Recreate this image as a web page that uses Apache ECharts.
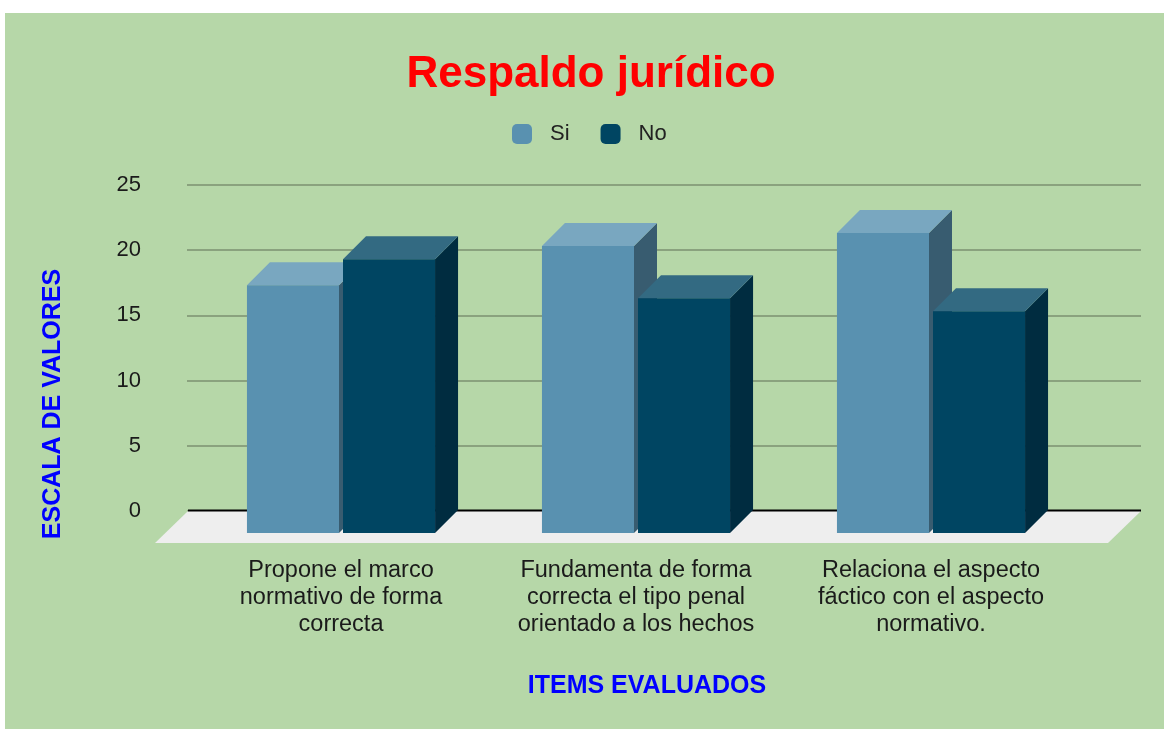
<!DOCTYPE html>
<html>
<head>
<meta charset="utf-8">
<script src="https://cdn.jsdelivr.net/npm/echarts@6/dist/echarts.min.js"></script>
<style>
  html, body { margin: 0; padding: 0; background: #fff; }
  #chart { width: 1164px; height: 729px; }
</style>
</head>
<body>
<div id="chart"></div>
<script>
var categories = [
    'Propone el marco\nnormativo de forma\ncorrecta',
    'Fundamenta de forma\ncorrecta el tipo penal\norientado a los hechos',
    'Relaciona el aspecto\nfáctico con el aspecto\nnormativo.'
];
var siValues = [19, 22, 23];
var noValues = [21, 18, 17];
var seriesNames = ['Si', 'No'];
var yMin = 0, yMax = 25, yStep = 5;

var FONT = 'Liberation Sans, Arial, sans-serif';
var DEPTH = 23;

// front / top / side shades for each series
var siColors = { front: '#5991b0', top: '#79a7c0', side: '#385c70' };
var noColors = { front: '#004562', top: '#336a82', side: '#002c40' };

function barRenderer(dir, c) {
    return function (params, api) {
        var cat = api.value(0), val = api.value(1);
        var base = api.coord([cat, 0]),
            top = api.coord([cat, val]),
            band = api.size([1, 0])[0],
            w = band * 0.312,
            x0 = dir < 0 ? base[0] - 2 - w : base[0] + 2,
            x1 = x0 + w,
            yB = base[1],
            yT = top[1],
            d = DEPTH;
        return {
            type: 'group',
            children: [{
                type: 'polygon',
                shape: { points: [[x1, yT], [x1 + d, yT - d], [x1 + d, yB - d], [x1, yB]] },
                style: { fill: c.side }
            }, {
                type: 'polygon',
                shape: { points: [[x0, yT], [x0 + d, yT - d], [x1 + d, yT - d], [x1, yT]] },
                style: { fill: c.top }
            }, {
                type: 'rect',
                shape: { x: x0, y: yT, width: w, height: yB - yT },
                style: { fill: c.front }
            }]
        };
    };
}

function floorRenderer(params, api) {
    var cs = params.coordSys,
        y0 = api.coord([0, 0])[1],
        left = cs.x + 1,
        right = cs.x + cs.width;
    return {
        type: 'group',
        children: [{
            type: 'polygon',
            shape: { points: [[left, y0], [right, y0], [right - 33, y0 + 32], [left - 33, y0 + 32]] },
            style: { fill: '#eeeeee' }
        }, {
            type: 'line',
            shape: { x1: left, y1: y0 - 0.5, x2: right, y2: y0 - 0.5 },
            style: { stroke: '#000', lineWidth: 2 }
        }]
    };
}

var chart = echarts.init(document.getElementById('chart'));
chart.setOption({
    backgroundColor: '#ffffff',
    animation: false,
    textStyle: { fontFamily: FONT },
    graphic: [{
        type: 'rect',
        z: -10,
        silent: true,
        shape: { x: 5, y: 13, width: 1159, height: 716 },
        style: { fill: '#b6d7a8' }
    }, {
        type: 'text',
        x: 591, y: 75,
        style: {
            text: 'Respaldo jurídico',
            fill: '#ff0000',
            font: 'bold 44px ' + FONT,
            textAlign: 'center',
            textVerticalAlign: 'middle'
        }
    }, {
        type: 'text',
        x: 53, y: 404,
        rotation: Math.PI / 2,
        style: {
            text: 'ESCALA DE VALORES',
            fill: '#0000ff',
            font: 'bold 25px ' + FONT,
            textAlign: 'center',
            textVerticalAlign: 'middle'
        }
    }, {
        type: 'text',
        x: 647, y: 686,
        style: {
            text: 'ITEMS EVALUADOS',
            fill: '#0000ff',
            font: 'bold 25px ' + FONT,
            textAlign: 'center',
            textVerticalAlign: 'middle'
        }
    }],
    legend: {
        data: seriesNames,
        left: 512,
        top: 123,
        padding: 0,
        itemWidth: 20,
        itemHeight: 20,
        itemGap: 31,
        icon: 'roundRect',
        textStyle: { fontSize: 22, color: '#222', fontFamily: FONT, padding: [0, 0, 0, 13] }
    },
    grid: [
        { left: 187, right: 23, top: 185, bottom: 218 },
        { left: 193.5, right: 85.5, top: 207, bottom: 196 }
    ],
    xAxis: [{
        gridIndex: 0,
        type: 'value',
        min: 0, max: 1,
        show: false
    }, {
        gridIndex: 1,
        type: 'category',
        data: categories,
        axisLine: { show: false },
        axisTick: { show: false },
        axisLabel: {
            interval: 0,
            margin: 24,
            fontSize: 23.5,
            lineHeight: 27,
            color: '#1a1a1a',
            fontFamily: FONT
        }
    }],
    yAxis: [{
        gridIndex: 0,
        type: 'value',
        min: yMin, max: yMax, interval: yStep,
        axisLine: { show: false },
        axisTick: { show: false },
        axisLabel: { margin: 46, fontSize: 22, color: '#1a1a1a', fontFamily: FONT, padding: [3, 0, 0, 0] },
        splitLine: { lineStyle: { color: '#8aa27e', width: 2 } }
    }, {
        gridIndex: 1,
        type: 'value',
        min: yMin, max: yMax, interval: yStep,
        show: false
    }],
    series: [{
        name: 'floor',
        type: 'custom',
        xAxisIndex: 0,
        yAxisIndex: 0,
        z: 1,
        silent: true,
        data: [[0, 0]],
        renderItem: floorRenderer
    }, {
        name: seriesNames[0],
        type: 'custom',
        xAxisIndex: 1,
        yAxisIndex: 1,
        z: 3,
        itemStyle: { color: siColors.front },
        encode: { x: 0, y: 1 },
        data: siValues.map(function (v, i) { return [i, v]; }),
        renderItem: barRenderer(-1, siColors)
    }, {
        name: seriesNames[1],
        type: 'custom',
        xAxisIndex: 1,
        yAxisIndex: 1,
        z: 4,
        itemStyle: { color: noColors.front },
        encode: { x: 0, y: 1 },
        data: noValues.map(function (v, i) { return [i, v]; }),
        renderItem: barRenderer(1, noColors)
    }]
});
</script>
</body>
</html>
